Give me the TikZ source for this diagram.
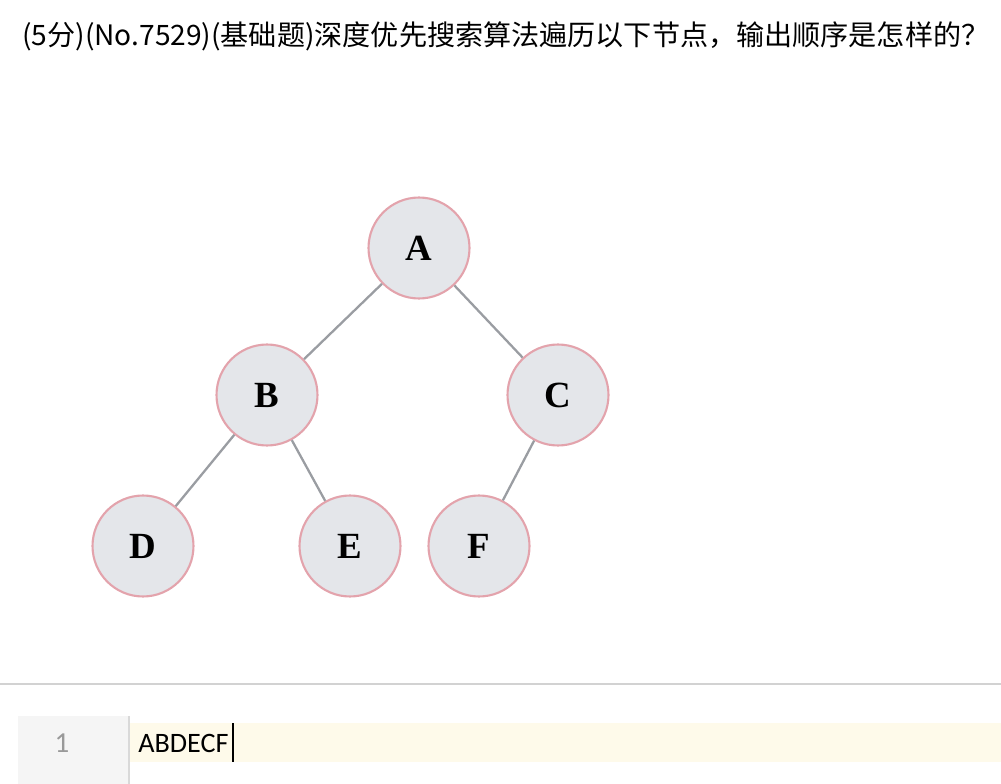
\documentclass[tikz,border=0pt]{standalone}
\usepackage{fontspec}
\usepackage{tikz}
\usetikzlibrary{positioning}
\setmainfont{Liberation Serif}
\newfontfamily\cjkfont{Noto Sans CJK SC}
\newfontfamily\codefont{Carlito}
\definecolor{nodefill}{HTML}{E4E6EA}
\definecolor{nodeline}{HTML}{E3A3AC}
\definecolor{edgegray}{HTML}{9A9DA2}
\definecolor{gutter}{HTML}{F5F5F5}
\definecolor{linehl}{HTML}{FEFAEA}

\begin{document}
\begin{tikzpicture}[
    x = 0.02cm,
    y = -0.02cm,
    edge/.style = {draw = edgegray, line width = 1.3pt},
    vertex/.style = {circle, draw = nodeline, line width = 1.2pt, fill = nodefill,
                     minimum size = 2.02cm, inner sep = 0pt,
                     font = \fontsize{21}{21}\selectfont\bfseries}
]
\useasboundingbox (0,0) rectangle (1001,784);

% Question
\node[anchor = base west, inner sep = 0pt, font = \cjkfont\fontsize{16}{18}\selectfont]
    (question) at (22,46) {(5分)(No.7529)(基础题)深度优先搜索算法遍历以下节点，输出顺序是怎样的？};

% Tree
\node[vertex] (A) at (419,248) {A};
\node[vertex] (B) at (267,395) {B};
\node[vertex] (C) at (558,395) {C};
\node[vertex] (D) at (143,546) {D};
\node[vertex] (E) at (350,546) {E};
\node[vertex] (F) at (479,546) {F};

\draw[edge] (A) -- (B);
\draw[edge] (A) -- (C);
\draw[edge] (B) -- (D);
\draw[edge] (B) -- (E);
\draw[edge] (C) -- (F);

% Answer box
\coordinate (rule west) at (0,684);
\coordinate (rule east) at (1001,684);
\draw[draw = gray!35, line width = 0.8pt] (rule west) -- (rule east);
\fill[gutter] (18,716) rectangle (128,784);
\fill[linehl] (130,723) rectangle (1001,762);
\draw[draw = gray!30, line width = 1pt] (129,716) -- (129,784);
\node[font = \codefont\fontsize{16.5}{18}\selectfont, text = gray!80] (lineno) at (62,743) {1};
\node[anchor = west, inner sep = 0pt, font = \codefont\fontsize{16}{18}\selectfont]
    (answer) at (138,743) {ABDECF};
\draw[line width = 1pt] ([xshift = 2.5pt]answer.east |- 0,723) -- ([xshift = 2.5pt]answer.east |- 0,762);

\end{tikzpicture}
\end{document}
